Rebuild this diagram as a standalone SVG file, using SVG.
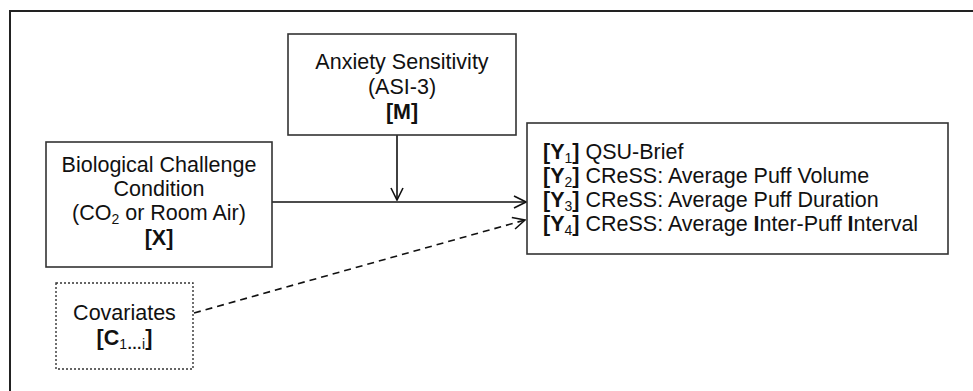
<svg xmlns="http://www.w3.org/2000/svg" width="973" height="391" viewBox="0 0 973 391">
<style>
text{font-family:"Liberation Sans",Arial,sans-serif;font-size:21.5px;fill:#111}
.c{text-anchor:middle}
.b{font-weight:bold}
.s{font-size:14px}
.box{fill:#fff;stroke:#333;stroke-width:1.6}
.dot{fill:#fff;stroke:#333;stroke-width:1.4;stroke-dasharray:2 2}
.ln{fill:none;stroke:#111;stroke-width:1.6}
.dash{fill:none;stroke:#111;stroke-width:1.6;stroke-dasharray:7 5}
</style>
<defs>
<marker id="ah" viewBox="0 0 14 14" refX="13" refY="7" markerWidth="14" markerHeight="14" markerUnits="userSpaceOnUse" orient="auto">
<path d="M1,1 L13,7 L1,13" fill="none" stroke="#111" stroke-width="1.6"/>
</marker>
</defs>
<rect width="973" height="391" fill="#fff"/>
<rect x="10" y="11" width="1000" height="420" fill="none" stroke="#222" stroke-width="2"/>
<g id="connectors">
<line class="ln" x1="272" y1="202" x2="526" y2="202" marker-end="url(#ah)"/>
<line class="ln" x1="397" y1="135" x2="397" y2="200" marker-end="url(#ah)"/>
<line class="dash" x1="194" y1="313" x2="525" y2="220" marker-end="url(#ah)"/>
</g>
<g id="node-M">
<rect class="box" x="288" y="34" width="228" height="101"/>
<text class="c" x="402" y="69">Anxiety Sensitivity</text>
<text class="c" x="402" y="94">(ASI-3)</text>
<text class="c b" x="402" y="119">[M]</text>
</g>
<g id="node-X">
<rect class="box" x="46" y="142" width="226" height="125"/>
<text class="c" x="159" y="172">Biological Challenge</text>
<text class="c" x="159" y="196">Condition</text>
<text class="c" x="159" y="220">(CO<tspan class="s" dy="4">2</tspan><tspan dy="-4"> or Room Air)</tspan></text>
<text class="c b" x="159" y="245">[X]</text>
</g>
<g id="node-C">
<rect class="dot" x="56" y="283" width="137" height="86"/>
<text class="c" x="124.5" y="320">Covariates</text>
<text class="c b" x="124.5" y="345">[C<tspan class="s" dy="4" font-weight="normal">1</tspan><tspan font-size="15">…</tspan><tspan class="s" font-weight="normal">i</tspan><tspan dy="-4">]</tspan></text>
</g>
<g id="node-Y">
<rect class="box" x="527" y="123" width="421" height="131"/>
<text x="543" y="159"><tspan class="b">[Y</tspan><tspan class="s" dy="4">1</tspan><tspan class="b" dy="-4">]</tspan> QSU-Brief</text>
<text x="543" y="183"><tspan class="b">[Y</tspan><tspan class="s" dy="4">2</tspan><tspan class="b" dy="-4">]</tspan> CReSS: Average Puff Volume</text>
<text x="543" y="207"><tspan class="b">[Y</tspan><tspan class="s" dy="4">3</tspan><tspan class="b" dy="-4">]</tspan> CReSS: Average Puff Duration</text>
<text x="543" y="231"><tspan class="b">[Y</tspan><tspan class="s" dy="4">4</tspan><tspan class="b" dy="-4">]</tspan> CReSS: Average <tspan class="b">I</tspan>nter-Puff <tspan class="b">I</tspan>nterval</text>
</g>
</svg>
